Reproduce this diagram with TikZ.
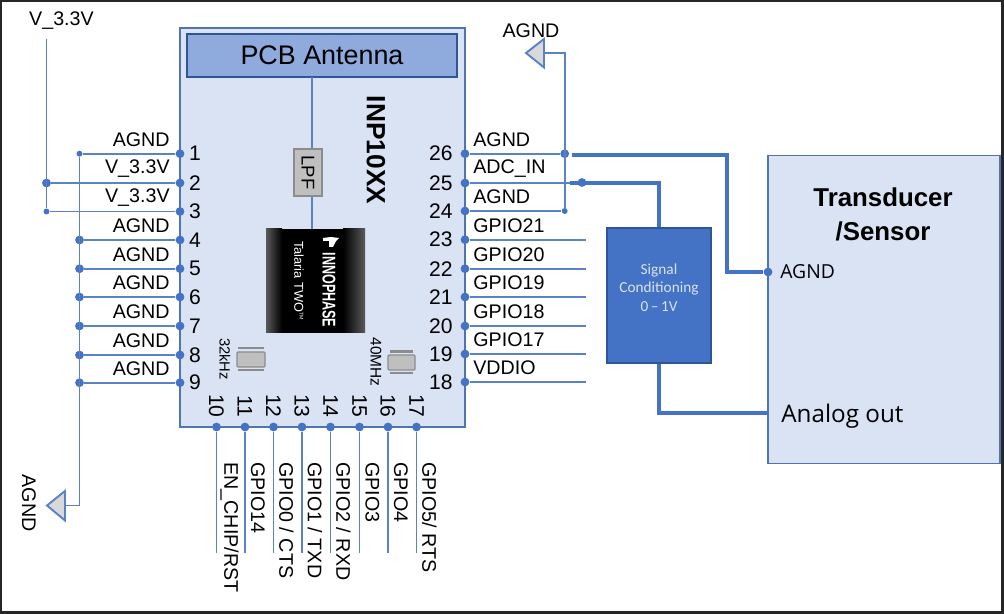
\documentclass[tikz,border=0pt]{standalone}
\usepackage{fontspec}
\usepackage{xcolor}
\usepackage{tikz}
\setmainfont{Liberation Sans}
\newfontfamily\opensans{Open Sans}
\newfontfamily\carlito{Carlito}
\definecolor{wireblue}{HTML}{5B82C6}
\definecolor{dotblue}{HTML}{4472C4}
\definecolor{edgeblue}{HTML}{4F74AE}
\definecolor{darkblue}{HTML}{2F5597}
\definecolor{paleblue}{HTML}{DAE3F3}
\definecolor{midblue}{HTML}{8FAADC}
\definecolor{partgray}{HTML}{BFBFBF}
\definecolor{plategray}{HTML}{8C8C8C}
\tikzset{
    wire/.style={draw=wireblue, line width=1.1pt},
    thickwire/.style={draw=dotblue, line width=2.4pt},
    pindot/.style={circle, fill=dotblue, inner sep=0pt, minimum size=5pt},
    tinydot/.style={circle, fill=dotblue, inner sep=0pt, minimum size=3.4pt},
    sig/.style={font=\fontsize{11.2}{13}\selectfont, inner sep=0pt},
    num/.style={font=\fontsize{12}{14}\selectfont, inner sep=0pt},
    gndsym/.style={draw=wireblue, fill=gray!30, line width=1.1pt},
    crystal/.style={draw=plategray, fill=partgray, line width=.7pt, rounded corners=.6pt},
    plate/.style={draw=plategray, line width=1.2pt}
}
\begin{document}
\begin{tikzpicture}[x=.02cm,y=-.02cm]
    \useasboundingbox (0,0) rectangle (1004,614);
    % frame
    \draw[line width=1.4pt, black!85] (1.2,1.2) rectangle (1002.6,612.4);
    % module body
    \node[draw=edgeblue, fill=paleblue, line width=1.1pt, minimum width=285*.02cm, minimum height=399*.02cm, inner sep=0pt] (module) at (322.5,227.5) {};
    \node[draw=darkblue, fill=midblue, line width=1.1pt, minimum width=270*.02cm, minimum height=43*.02cm, inner sep=0pt, font=\fontsize{15.3}{18}\selectfont] (antenna) at (322,55.5) {PCB Antenna};
    \node[font=\bfseries\fontsize{15}{18}\selectfont, rotate=-90, inner sep=0pt] (partname) at (376,150) {INP10XX};
    % rf path
    \coordinate (antfeed) at (312,77);
    \coordinate (chipfeed) at (312,229);
    \draw[wire] (antfeed) -- (chipfeed);
    \node[draw=plategray, fill=partgray, line width=.8pt, minimum width=28*.02cm, minimum height=47*.02cm, inner sep=0pt] (lpf) at (308,172.5) {};
    \node[rotate=-90, inner sep=0pt, font=\fontsize{10.5}{12}\selectfont] (lpftext) at (308,172.5) {LPF};
    % chip
    \fill[black] (266,229) rectangle (365,333);
    \shade[left color=black!65, right color=black] (266,229) rectangle (282,333);
    \shade[left color=black, right color=black!65] (343,229) rectangle (365,333);
    \fill[white] (323,238) -- (331,237) -- (339,238) -- (336,241) -- (333,247) -- (329,247) -- (329,241) -- (323,241) -- cycle;
    \node[rotate=-90, xscale=.68, inner sep=0pt, text=white, font=\bfseries\fontsize{10.5}{12}\selectfont] (maker) at (329,290) {INNOPHASE};
    \node[rotate=-90, inner sep=0pt, text=white, font=\fontsize{7.3}{9}\selectfont] (chipname) at (299,281) {Talaria TWO\textsuperscript{\fontsize{3}{3}\selectfont TM}};
    % crystals
    \draw[crystal] (237,352) rectangle (265,367);
    \draw[plate] (238,348) -- (264,348);
    \draw[plate] (238,370) -- (264,370);
    \draw[crystal] (388,355) rectangle (415,370);
    \draw[plate] (390,351.5) -- (413,351.5);
    \draw[plate] (390,373) -- (413,373);
    \node[rotate=-90, inner sep=0pt, font=\fontsize{8.4}{10}\selectfont] (xtalA) at (225,359) {32kHz};
    \node[rotate=-90, inner sep=0pt, font=\fontsize{8.8}{10}\selectfont] (xtalB) at (376,362) {40MHz};
    % left side pins
    \foreach \i/\y/\txt in {1/153.7/AGND,2/183/V\_3.3V,3/211.5/V\_3.3V,4/240/AGND,5/268.7/AGND,6/297/AGND,7/326/AGND,8/355/AGND,9/382.7/AGND}{
        \node[pindot] (l\i) at (180,\y) {};
        \node[sig, anchor=east] (ltxt\i) at (170,\y-14) {\txt};
        \node[num, anchor=center] (lnum\i) at (195,\y) {\i};
    }
    \foreach \i/\y in {4/240,5/268.7,6/297,7/326,8/355,9/382.7}{
        \node[pindot] (b\i) at (79.5,\y) {};
        \draw[wire] (l\i) -- (b\i);
    }
    \node[tinydot] (b1) at (79.5,153.7) {};
    \draw[wire] (l1) -- (b1);
    \node[pindot] (v2) at (46.5,183) {};
    \node[tinydot] (v3) at (46.5,211.5) {};
    \draw[wire] (l2) -- (v2);
    \draw[wire] (l3) -- (v3);
    \coordinate (vtop) at (46.5,39);
    \draw[wire] (vtop) -- (v3);
    \node[sig] (vname) at (61.5,21) {V\_3.3V};
    % left ground
    \coordinate (gndL) at (65,505.5);
    \draw[wire] (b1) |- (gndL);
    \draw[gndsym] (65,491) -- (65,520.5) -- (47,505.5) -- cycle;
    \node[sig, rotate=-90] (gndLtxt) at (29,503) {AGND};
    % right side pins
    \foreach \i/\y/\txt in {26/153.7/AGND,25/183/ADC\_IN,24/211/AGND,23/239.7/GPIO21,22/268.7/GPIO20,21/297/GPIO19,20/326/GPIO18,19/354/GPIO17,18/382/VDDIO}{
        \node[pindot] (r\i) at (465,\y) {};
        \node[sig, anchor=west] (rtxt\i) at (473,\y-14) {\txt};
        \node[num, anchor=east] (rnum\i) at (453,\y) {\i};
    }
    \foreach \i/\y in {23/239.7,22/268.7,21/297,20/326,19/354,18/382}{
        \coordinate (e\i) at (586,\y);
        \draw[wire] (r\i) -- (e\i);
    }
    \node[pindot] (j26) at (564.7,153.7) {};
    \node[tinydot] (j24) at (564.7,211) {};
    \coordinate (j25) at (570,183);
    \draw[wire] (r26) -- (j26);
    \draw[wire] (r25) -- (j25);
    \draw[wire] (r24) -- (j24);
    % right ground
    \coordinate (gndR) at (544,53);
    \draw[wire] (j24) |- (gndR);
    \draw[gndsym] (544,39) -- (544,67.5) -- (526,53) -- cycle;
    \node[sig] (gndRtxt) at (531,31) {AGND};
    % bottom pins
    \foreach \i/\x/\txt in {10/216.5/EN\_CHIP{/}RST,11/245/GPIO14,12/273.5/GPIO0 {/} CTS,13/302/GPIO1 {/} TXD,14/330.5/GPIO2 {/} RXD,15/359.5/GPIO3,16/388/GPIO4,17/416.5/GPIO5{/} RTS}{
        \node[pindot] (s\i) at (\x,427) {};
        \coordinate (f\i) at (\x,553);
        \draw[wire] (s\i) -- (f\i);
        \node[num, rotate=-90] (snum\i) at (\x,406) {\i};
        \node[sig, rotate=-90, anchor=west] (stxt\i) at (\x+13,462) {\txt};
    }
    % sensor and conditioning
    \node[draw=edgeblue, fill=paleblue, line width=1.1pt, minimum width=232*.02cm, minimum height=308*.02cm, inner sep=0pt] (sensor) at (884,309.5) {};
    \node[font=\bfseries\fontsize{14.7}{19.3}\selectfont, align=center, inner sep=0pt] (sensortxt) at (883,214) {Transducer\\/Sensor};
    \node[draw=darkblue, fill=dotblue, line width=.8pt, minimum width=104*.02cm, minimum height=135*.02cm, inner sep=0pt] (cond) at (659,295.5) {};
    \node[text=paleblue, align=center, inner sep=0pt, font=\carlito\fontsize{8.7}{10.5}\selectfont] (condtxt) at (659,287.5) {Signal\\Conditioning\\0\,–\,1V};
    \node[pindot] (sagnd) at (768,272) {};
    \coordinate (sout) at (768,413);
    \node[anchor=west, inner sep=0pt, font=\opensans\fontsize{11}{13}\selectfont] (sagndtxt) at (780,271.5) {AGND};
    \node[anchor=west, inner sep=0pt, font=\opensans\fontsize{13.8}{15}\selectfont] (souttxt) at (781,416) {Analog out};
    \coordinate (t26) at (572,155);
    \coordinate (k26) at (727,155);
    \draw[thickwire] (t26) -- (k26) |- (sagnd);
    \draw[thickwire] (j25) -| (cond.north);
    \node[pindot] (j25dot) at (582,182.5) {};
    \draw[thickwire] (cond.south) |- (sout);
\end{tikzpicture}
\end{document}
